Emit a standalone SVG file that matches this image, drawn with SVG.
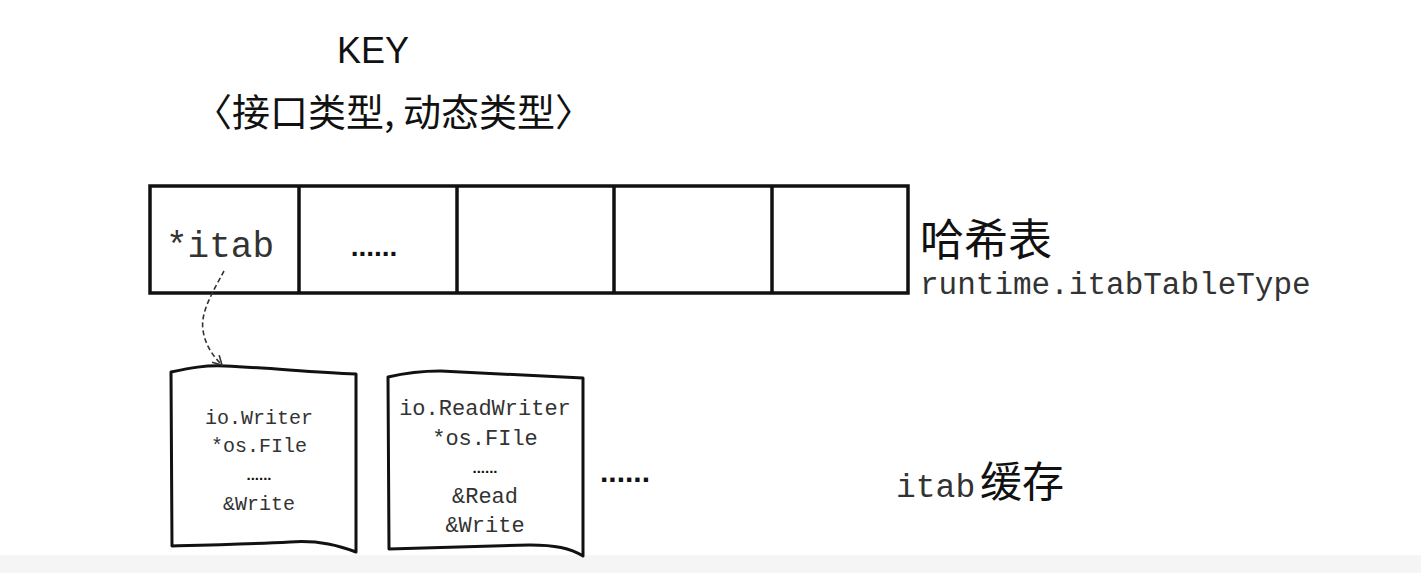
<svg xmlns="http://www.w3.org/2000/svg" width="1421" height="573" viewBox="0 0 1421 573">
<defs>
<style>
.ln{fill:none;stroke:#111;stroke-width:3;stroke-linejoin:round;stroke-linecap:round}
.cell{fill:none;stroke:#111;stroke-width:3.5}
.mono{font-family:"Liberation Mono","DejaVu Sans Mono",monospace;fill:#333}
.cjk{font-family:"Noto Sans CJK SC","Noto Sans",sans-serif;fill:#111}
.dots{font-family:"Liberation Sans",Arial,sans-serif;font-weight:bold;fill:#111}
</style>
<marker id="ah" viewBox="0 0 12 12" refX="10" refY="6" markerWidth="12" markerHeight="12" markerUnits="userSpaceOnUse" orient="auto">
<path d="M1,1 L10,6 L1,11" fill="none" stroke="#333" stroke-width="1.6"/>
</marker>
</defs>
<rect x="0" y="0" width="1421" height="573" fill="#fff"/>
<rect x="0" y="555" width="1421" height="18" fill="#f5f5f5"/>
<g id="key">
<text x="373" y="63" text-anchor="middle" font-family="'Liberation Sans','DejaVu Sans',sans-serif" font-size="36" fill="#111">KEY</text>
<text x="194" y="126" class="cjk" font-size="38">〈接口类型, 动态类型〉</text>
</g>
<g id="hashtable">
<rect x="150" y="186" width="758" height="107" class="cell"/>
<line x1="299" y1="186" x2="299" y2="293" class="cell"/>
<line x1="457" y1="186" x2="457" y2="293" class="cell"/>
<line x1="614" y1="186" x2="614" y2="293" class="cell"/>
<line x1="772" y1="186" x2="772" y2="293" class="cell"/>
<text x="220" y="257" text-anchor="middle" class="mono" font-size="36">*itab</text>
<text x="374" y="256" text-anchor="middle" class="dots" font-size="28">......</text>
</g>
<g id="hashtable-label">
<text x="920" y="256" class="cjk" font-size="44">哈希表</text>
<text x="920" y="294" class="mono" font-size="31">runtime.itabTableType</text>
</g>
<g id="itab1">
<path class="ln" d="M171,372 C190,368 205,365 225,366 C270,368 310,372 356,374 L356,552 C340,546 320,540 290,542 C250,544 210,545 172,546 Z"/>
<text class="mono" font-size="20" text-anchor="middle" x="259" y="424">io.Writer</text>
<text class="mono" font-size="20" text-anchor="middle" x="259" y="452">*os.FIle</text>
<text class="dots" font-size="15" text-anchor="middle" x="259" y="480">......</text>
<text class="mono" font-size="20" text-anchor="middle" x="259" y="510">&amp;Write</text>
</g>
<g id="itab2">
<path class="ln" d="M388,377 C405,373 420,371 440,371 C490,373 540,376 583,378 L583,556 C570,548 555,545 530,545 C480,546 430,548 389,549 Z"/>
<text class="mono" font-size="22" text-anchor="middle" x="485" y="415">io.ReadWriter</text>
<text class="mono" font-size="22" text-anchor="middle" x="485" y="445">*os.FIle</text>
<text class="dots" font-size="15" text-anchor="middle" x="485" y="473">......</text>
<text class="mono" font-size="22" text-anchor="middle" x="485" y="503">&amp;Read</text>
<text class="mono" font-size="22" text-anchor="middle" x="485" y="532">&amp;Write</text>
</g>
<g id="more">
<text x="625" y="482" text-anchor="middle" class="dots" font-size="30">......</text>
</g>
<g id="cache-label">
<text x="896" y="497" class="mono" font-size="33">itab</text>
<text x="980" y="497" class="cjk" font-size="42">缓存</text>
</g>
<g id="connectors">
<path d="M224,271 C214,290 200,312 203,330 C205,345 213,356 222,365" fill="none" stroke="#333" stroke-width="1.6" stroke-dasharray="5,3" marker-end="url(#ah)"/>
</g>
</svg>
